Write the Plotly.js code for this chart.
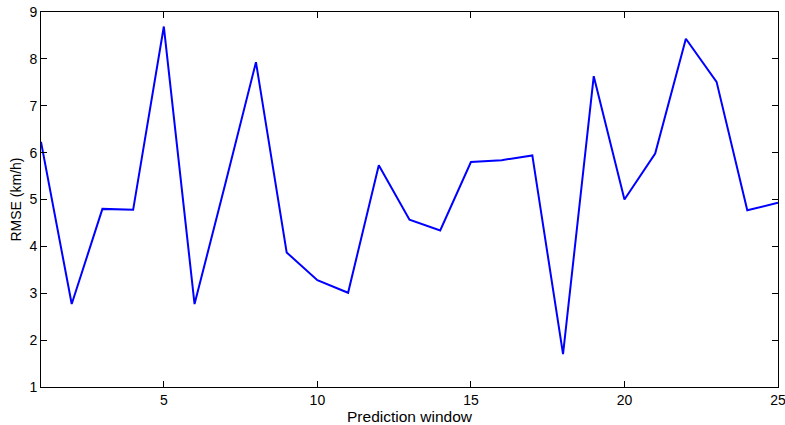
<!DOCTYPE html>
<html>
<head>
<meta charset="utf-8">
<script src="https://cdn.plot.ly/plotly-3.0.1.min.js"></script>
<style>html,body{margin:0;padding:0;background:#fff;}#chart{width:785px;height:425px;}</style>
</head>
<body>
<div id="chart"></div>
<script>
const predictionWindow = [1,2,3,4,5,6,7,8,9,10,11,12,13,14,15,16,17,18,19,20,21,22,23,24,25];
const rmse = [6.23,2.77,4.80,4.78,8.69,2.77,5.33,7.93,3.87,3.28,3.01,5.73,4.57,4.34,5.80,5.84,5.94,1.70,7.63,5.00,5.98,8.43,7.51,4.77,4.93];
const xTicks = [5,10,15,20,25];
const yTicks = [1,2,3,4,5,6,7,8,9];

const trace = {
  x: predictionWindow, y: rmse, type: 'scatter', mode: 'lines',
  line: {color: '#0000ff', width: 2}, hoverinfo: 'none'
};
const fontFam = '"Liberation Sans", Arial, Helvetica, sans-serif';
const layout = {
  width: 785, height: 425,
  margin: {l: 41, r: 7, t: 12, b: 38, pad: 0},
  paper_bgcolor: '#fff', plot_bgcolor: '#fff',
  showlegend: false,
  font: {family: fontFam, size: 14, color: '#000'},
  xaxis: {
    range: [1, 25], tickvals: xTicks, ticktext: xTicks.map(String),
    ticks: 'inside', ticklen: 6, tickwidth: 1, tickcolor: '#000',
    showline: true, linecolor: '#000', linewidth: 1, mirror: 'ticks',
    showgrid: false, zeroline: false, ticklabeloverflow: 'allow',
    tickfont: {family: fontFam, size: 14, color: '#000'},
    title: {text: 'Prediction window', font: {family: fontFam, size: 15.5, color: '#000'}, standoff: 0}
  },
  yaxis: {
    range: [1, 9], tickvals: yTicks, ticktext: yTicks.map(String),
    ticks: 'inside', ticklen: 6, tickwidth: 1, tickcolor: '#000',
    showline: true, linecolor: '#000', linewidth: 1, mirror: 'ticks',
    showgrid: false, zeroline: false,
    tickfont: {family: fontFam, size: 14, color: '#000'},
    title: {text: 'RMSE (km/h)', font: {family: fontFam, size: 14, color: '#000'}, standoff: 4}
  }
};
Plotly.newPlot('chart', [trace], layout, {staticPlot: true, displayModeBar: false});
</script>
</body>
</html>
